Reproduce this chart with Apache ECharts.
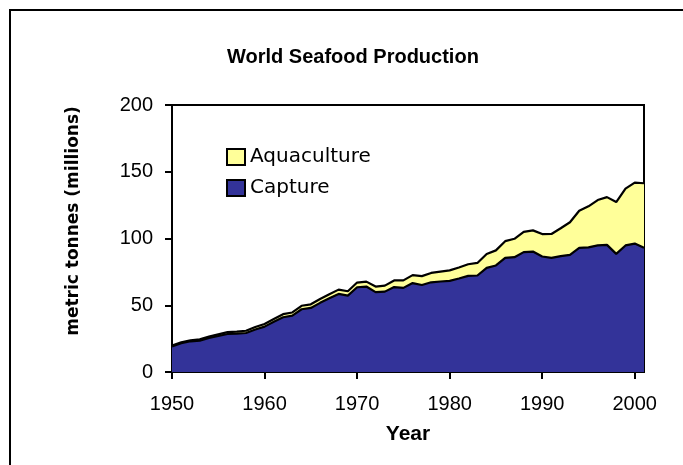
<!DOCTYPE html>
<html>
<head>
<meta charset="utf-8">
<script src="https://cdn.jsdelivr.net/npm/echarts@6/dist/echarts.min.js"></script>
<style>html,body{margin:0;padding:0;background:#fff}#c{width:683px;height:465px}</style>
</head>
<body>
<div id="c"></div>
<script>
var years = ['1950','1951','1952','1953','1954','1955','1956','1957','1958','1959',
             '1960','1961','1962','1963','1964','1965','1966','1967','1968','1969',
             '1970','1971','1972','1973','1974','1975','1976','1977','1978','1979',
             '1980','1981','1982','1983','1984','1985','1986','1987','1988','1989',
             '1990','1991','1992','1993','1994','1995','1996','1997','1998','1999',
             '2000','2001'];
var capture = [19.2,21.5,23.0,23.5,25.5,27.0,28.5,28.8,29.2,31.8,
               34.0,37.6,41.0,42.2,47.0,48.0,51.8,55.2,58.5,57.2,
               63.5,64.0,59.8,60.2,63.6,63.0,66.6,65.2,67.2,67.8,
               68.3,70.0,72.0,72.3,78.0,79.8,85.5,86.0,89.8,90.2,
               86.5,85.5,86.8,87.8,93.0,93.3,94.8,95.2,88.5,94.8,
               96.2,93.0];
var aquaculture = [0.6,0.7,0.8,0.9,1.0,1.2,1.4,1.5,1.7,1.9,
                   2.0,2.1,2.3,2.4,2.6,2.7,2.9,3.1,3.2,3.3,
                   3.5,3.7,4.2,4.5,5.0,5.6,6.0,6.6,7.0,7.4,
                   7.8,8.3,8.7,9.4,10.4,11.3,12.5,13.8,15.2,15.9,
                   16.8,17.9,20.9,24.4,27.8,30.8,34.0,35.8,38.8,42.5,
                   45.7,48.4];
var xTickLabels = ['1950','1960','1970','1980','1990','2000'];

var chart = echarts.init(document.getElementById('c'), null, {renderer:'canvas'});
function isTick(idx, val){ return xTickLabels.indexOf(String(val)) >= 0; }
chart.setOption({
  animation: false,
  backgroundColor: '#fff',
  title: {
    text: 'World Seafood Production',
    left: 222, top: 42,
    textStyle: {fontFamily:'Liberation Sans', fontWeight:'bold', fontSize:20, color:'#000'}
  },
  legend: {
    data: ['Aquaculture','Capture'],
    orient: 'vertical',
    left: 226, top: 147, padding: 0,
    itemWidth: 18, itemHeight: 16, itemGap: 11,
    icon: 'rect',
    itemStyle: {borderColor:'#000', borderWidth:2},
    textStyle: {fontFamily:'DejaVu Sans', fontSize:20, color:'#000'}
  },
  grid: {left:172, right:39, top:105, bottom:93, show:true, borderColor:'#000', borderWidth:2, backgroundColor:'transparent'},
  xAxis: {
    type: 'category', data: years, boundaryGap: false,
    name: 'Year', nameLocation: 'middle', nameGap: 52,
    nameTextStyle: {fontFamily:'Liberation Sans', fontWeight:'bold', fontSize:21, color:'#000'},
    axisLine: {show:true, lineStyle:{color:'#000', width:2}},
    axisTick: {show:true, length:7, inside:false, interval: isTick, lineStyle:{color:'#000', width:2}},
    axisLabel: {margin: 22, interval: isTick, fontFamily:'Liberation Sans', fontSize:20, color:'#000'},
    splitLine: {show:false}
  },
  yAxis: {
    type: 'value', min: 0, max: 200, interval: 50,
    axisLine: {show:true, lineStyle:{color:'#000', width:2}},
    axisTick: {show:true, length:7, lineStyle:{color:'#000', width:2}},
    axisLabel: {margin: 19, fontFamily:'Liberation Sans', fontSize:20, color:'#000'},
    splitLine: {show:false}
  },
  graphic: [
    {type:'rect', shape:{x:10, y:10, width:700, height:500}, style:{fill:'none', stroke:'#000', lineWidth:2}, silent:true, z:-1},
    {type:'text', x:74, y:221, rotation: Math.PI/2,
     style:{text:'metric tonnes (millions)', fontFamily:'DejaVu Sans', fontWeight:'bold', fontSize:17, fill:'#000', align:'center', verticalAlign:'middle'}}
  ],
  series: [
    {
      name: 'Capture', type: 'line', stack: 'total', data: capture,
      symbol: 'none', z: 3, color: '#333399',
      itemStyle: {color:'#333399'},
      lineStyle: {color:'#000', width:2.2},
      areaStyle: {color:'#333399', opacity:1}
    },
    {
      name: 'Aquaculture', type: 'line', stack: 'total', data: aquaculture,
      symbol: 'none', z: 2, color: '#FFFF99',
      itemStyle: {color:'#FFFF99'},
      lineStyle: {color:'#000', width:2.2},
      areaStyle: {color:'#FFFF99', opacity:1}
    }
  ]
});
</script>
</body>
</html>
